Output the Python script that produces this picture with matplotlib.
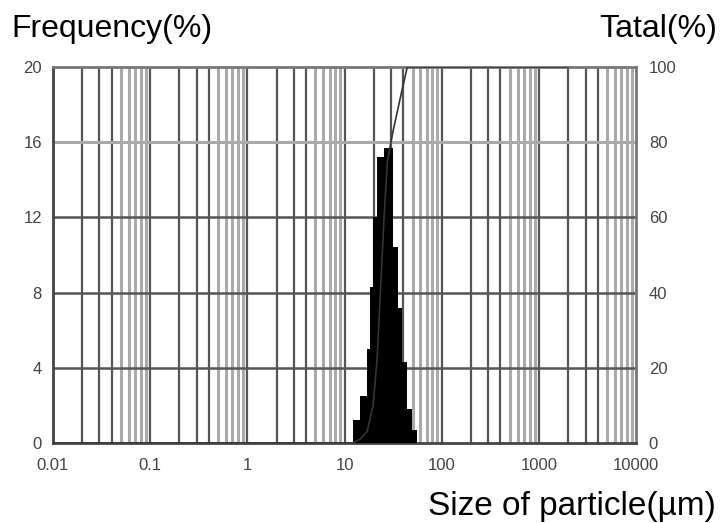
import numpy as np
import matplotlib.pyplot as plt

plt.rcParams['font.family'] = ['Liberation Sans', 'DejaVu Sans']

# particle size bin edges (um) and frequency (%) of each bin
sizes = [12.2, 14.4, 17.0, 18.2, 19.6, 21.5, 25.4, 31.2, 35.4, 39.0, 43.9, 49.3, 55.6]
freq = [1.2, 2.5, 5.0, 8.3, 12.0, 15.2, 15.7, 10.4, 7.2, 4.3, 1.8, 0.7, 0.0]

# cumulative curve (%)
cum_size = [0.01, 12.2, 14.4, 17.0, 19.6, 21.5, 23.1, 25.4, 27.5, 31.5, 35.4, 39.0, 41.5, 44.0, 2000]
cum_pct = [0, 0, 1, 3, 10, 22, 38, 60, 75, 83, 89, 94, 97, 100, 100]

x_ticks = [0.01, 0.1, 1, 10, 100, 1000, 10000]
x_labels = ['0.01', '0.1', '1', '10', '100', '1000', '10000']
left_ticks = [0, 4, 8, 12, 16, 20]
right_ticks = [0, 20, 40, 60, 80, 100]

fig = plt.figure(figsize=(7.22, 5.23), dpi=100)
ax = fig.add_axes([0.0734, 0.153, 0.808, 0.719])
ax.set_xscale('log')
ax.set_xlim(0.01, 10000)
ax.set_ylim(0, 20)

# vertical grid lines of the log paper
for d in [0.01, 0.1, 1, 10, 100, 1000]:
    for m in range(1, 10):
        if m <= 4:
            ax.axvline(d * m, color='#555555', lw=1.6, zorder=1)
        else:
            ax.axvline(d * m, color='#aaaaaa', lw=2.2, zorder=1)

# horizontal grid lines
for v in [4, 8, 12]:
    ax.axhline(v, color='#555555', lw=1.8, zorder=1)
ax.axhline(16, color='#aaaaaa', lw=2.2, zorder=1)

# frequency histogram
ax.fill_between(sizes, freq, step='post', color='black', lw=0, zorder=3)

ax.set_xticks(x_ticks)
ax.set_xticklabels(x_labels)
ax.xaxis.set_minor_locator(plt.NullLocator())
ax.set_yticks(left_ticks)
ax.tick_params(length=0, labelsize=12, labelcolor='#444444')
ax.tick_params(axis='y', pad=8)
ax.tick_params(axis='x', pad=11)
for s in ['left', 'bottom']:
    ax.spines[s].set_color('#444444')
    ax.spines[s].set_linewidth(2)
for s in ['top', 'right']:
    ax.spines[s].set_color('#777777')
    ax.spines[s].set_linewidth(2)

# cumulative curve on the right axis
ax2 = ax.twinx()
ax2.set_ylim(0, 100)
ax2.plot(cum_size, cum_pct, color='#333333', lw=1.2, zorder=4)
ax2.set_yticks(right_ticks)
ax2.tick_params(length=0, labelsize=12, labelcolor='#444444', pad=9)
for s in ax2.spines.values():
    s.set_visible(False)

fig.text(0.016, 0.929, 'Frequency(%)', fontsize=23, va='baseline')
fig.text(0.993, 0.929, 'Tatal(%)', fontsize=23, va='baseline', ha='right')
fig.text(0.992, 0.016, 'Size of particle(µm)', fontsize=24, va='baseline', ha='right')

fig.savefig('out.png', dpi=100)
